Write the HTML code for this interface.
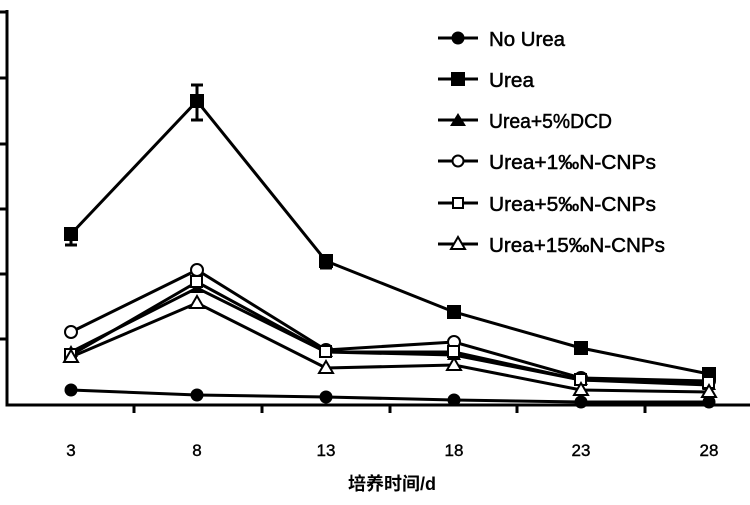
<!DOCTYPE html>
<html><head><meta charset="utf-8"><style>body{margin:0;background:#fff}</style></head><body>
<svg width="750" height="500" xmlns="http://www.w3.org/2000/svg" font-family="Liberation Sans, sans-serif">
<rect width="750" height="500" fill="#fff"/>
<g stroke="#000" stroke-width="3" fill="none">
<path d="M7 10V405H750"/>
<path d="M0 12H7M0 78H7M0 144H7M0 209H7M0 274H7M0 339H7"/>
<path d="M134 405V413M262 405V413M390 405V413M517 405V413M645 405V413"/>
<path d="M71 228V245M65 245H77M197 85V120M191 85H203M191 120H203M326 255V268M320 268H332"/>
<polyline points="71,390 197,395 326,397 454,400 581,402 709,402"/>
<polyline points="71,234 197,101 326,261 454,312 581,348 709,374"/>
<polyline points="71,352 197,288 326,352 454,355 581,380 709,385"/>
<polyline points="71,332 197,270 326,350 454,342 581,378 709,381"/>
<polyline points="71,355 197,282 326,352 454,352 581,380 709,383"/>
<polyline points="71,357 197,303 326,368 454,365 581,390 709,392"/>
</g>
<g fill="#000">
<circle cx="71" cy="390" r="6.5"/><circle cx="197" cy="395" r="6.5"/><circle cx="326" cy="397" r="6.5"/><circle cx="454" cy="400" r="6.5"/><circle cx="581" cy="402" r="6.5"/><circle cx="709" cy="402" r="6.5"/>
<rect x="64" y="227" width="14" height="14"/><rect x="190" y="94" width="14" height="14"/><rect x="319" y="254" width="14" height="14"/><rect x="447" y="305" width="14" height="14"/><rect x="574" y="341" width="14" height="14"/><rect x="702" y="367" width="14" height="14"/>
<path d="M71 345l7 12h-14zM197 281l7 12h-14zM326 345l7 12h-14zM454 348l7 12h-14zM581 373l7 12h-14zM709 378l7 12h-14z"/>
</g>
<g fill="#fff" stroke="#000" stroke-width="2">
<circle cx="71" cy="332" r="6"/><circle cx="197" cy="270" r="6"/><circle cx="326" cy="350" r="6"/><circle cx="454" cy="342" r="6"/><circle cx="581" cy="378" r="6"/><circle cx="709" cy="381" r="6"/>
<rect x="65" y="349" width="11" height="11"/><rect x="191" y="276" width="11" height="11"/><rect x="320" y="346" width="11" height="11"/><rect x="448" y="346" width="11" height="11"/><rect x="575" y="374" width="11" height="11"/><rect x="703" y="377" width="11" height="11"/>
<path d="M71 350l7 12h-14zM197 296l7 12h-14zM326 361l7 12h-14zM454 358l7 12h-14zM581 383l7 12h-14zM709 385l7 12h-14z"/>
</g>
<g font-size="17" text-anchor="middle" stroke="#000" stroke-width="0.4">
<text x="71" y="456">3</text><text x="197" y="456">8</text><text x="326" y="456">13</text><text x="454" y="456">18</text><text x="581" y="456">23</text><text x="709" y="456">28</text>
</g>
<text x="392" y="490" font-size="18" font-weight="bold" text-anchor="middle" font-family="Liberation Sans, Noto Sans CJK SC, sans-serif">培养时间/d</text>
<g stroke="#000" stroke-width="3">
<path d="M438 38H478M438 79H478M438 120H478M438 161H478M438 203H478M438 244H478"/>
</g>
<circle cx="458" cy="38" r="6.5"/>
<rect x="451" y="72" width="14" height="14"/>
<path d="M458 113l8 13h-16z"/>
<g fill="#fff" stroke="#000" stroke-width="2">
<circle cx="458" cy="161" r="5.5"/>
<rect x="453" y="198" width="10" height="10"/>
<path d="M458 237l7 12h-14z"/>
</g>
<g font-size="20" stroke="#000" stroke-width="0.5" lengthAdjust="spacingAndGlyphs">
<text x="489" y="46" textLength="76" lengthAdjust="spacingAndGlyphs">No Urea</text>
<text x="489" y="87" textLength="45" lengthAdjust="spacingAndGlyphs">Urea</text>
<text x="489" y="128" textLength="123" lengthAdjust="spacingAndGlyphs">Urea+5%DCD</text>
<text x="489" y="169" textLength="167" lengthAdjust="spacingAndGlyphs">Urea+1‰N-CNPs</text>
<text x="489" y="211" textLength="167" lengthAdjust="spacingAndGlyphs">Urea+5‰N-CNPs</text>
<text x="489" y="252" textLength="176" lengthAdjust="spacingAndGlyphs">Urea+15‰N-CNPs</text>
</g>
</svg>
</body></html>
